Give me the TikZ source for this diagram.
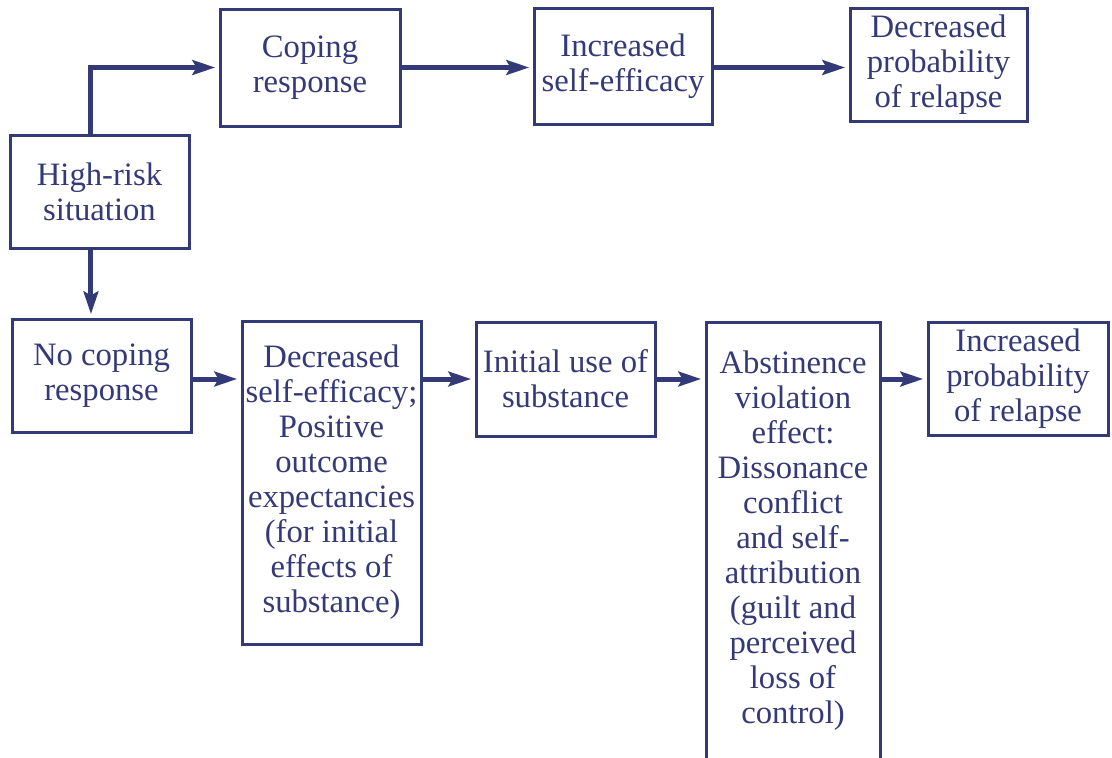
\documentclass[tikz,border=0pt]{standalone}
\usepackage{fontspec}
\setmainfont{Liberation Serif}
\usetikzlibrary{arrows.meta}
\definecolor{navy}{RGB}{52,58,120}
\tikzset{
  box/.style={draw=navy, line width=2.25pt, text=navy, align=center, inner sep=0pt,
    font=\fontsize{24.5}{26.25}\selectfont},
  arr/.style={draw=navy, line width=3.75pt, -{Stealth[length=17pt,width=11pt,inset=3pt]}, shorten >=2.5pt}
}
\begin{document}
\begin{tikzpicture}[x=0.75pt,y=-0.75pt]
\useasboundingbox (0,0) rectangle (1112,757);
\clip (0,0) rectangle (1112,757);
\fill[white] (0,0) rectangle (1112,757);
\node[box, minimum width=134.25pt, minimum height=84.75pt] (hr) at (99.5,191.5) {High-risk\\situation};
\node[box, minimum width=135pt, minimum height=87.75pt] (cr) at (310,67.5) {Coping\\response};
\node[box, minimum width=133.5pt, minimum height=87pt] (ise) at (623,66) {Increased\\self-efficacy};
\node[box, minimum width=132.75pt, minimum height=84.75pt] (dpr) at (938.5,64.5) {Decreased\\probability\\of relapse};
\node[box, minimum width=134.25pt, minimum height=84.75pt] (ncr) at (101.5,375.5) {No coping\\response};
\node[box, minimum width=134.25pt, minimum height=242.25pt] (dse) at (331.5,482.5) {Decreased\\self-efficacy;\\Positive\\outcome\\expectancies\\(for initial\\effects of\\substance)};
\node[box, minimum width=134.25pt, minimum height=85.5pt] (ius) at (565.5,379) {Initial use of\\substance};
\node[box, minimum width=130.5pt, minimum height=328.5pt] (ave) at (793,541) {Abstinence\\violation\\effect:\\Dissonance\\conflict\\and self-\\attribution\\(guilt and\\perceived\\loss of\\control)};
\node[box, minimum width=135pt, minimum height=84.75pt] (ipr) at (1018,378.5) {Increased\\probability\\of relapse};
% upper path
\draw[arr] ([xshift=-6.4pt]hr.north) |- (cr.west);
\draw[arr] (cr.east) -- (cr.east -| ise.west);
\draw[arr] (ise.east |- cr.east) -- (cr.east -| dpr.west);
% lower path
\draw[arr] ([xshift=-6.4pt]hr.south) -- ([xshift=-6.4pt]hr.south |- ncr.north);
\draw[arr] (ncr.east |- ius.west) -- (dse.west |- ius.west);
\draw[arr] (dse.east |- ius.west) -- (ius.west);
\draw[arr] (ius.east) -- (ave.west |- ius.east);
\draw[arr] (ave.east |- ius.east) -- (ipr.west |- ius.east);
\end{tikzpicture}
\end{document}
